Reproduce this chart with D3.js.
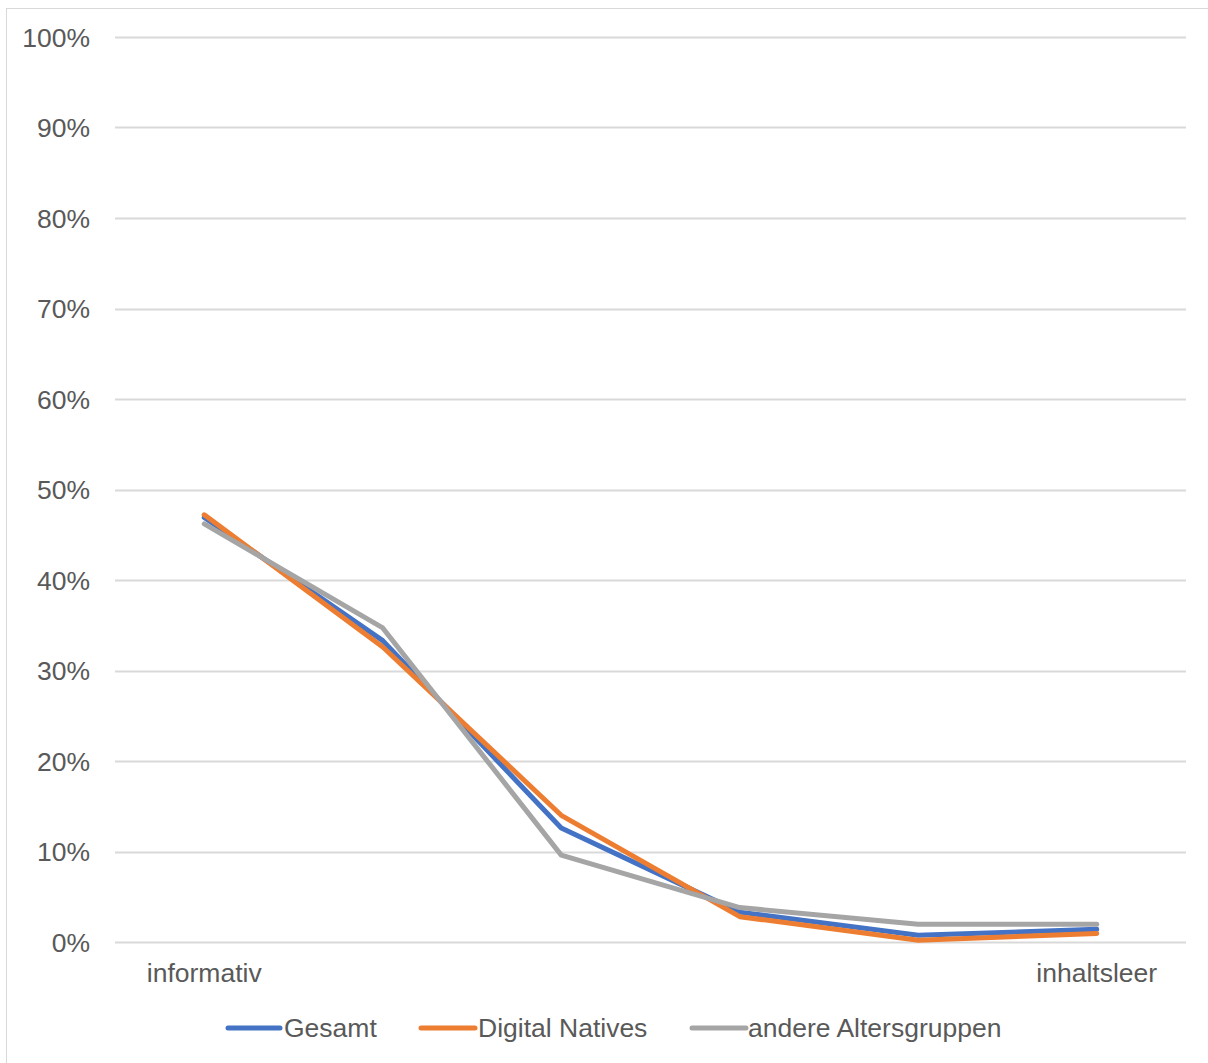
<!DOCTYPE html>
<html>
<head>
<meta charset="utf-8">
<script src="https://cdn.jsdelivr.net/npm/d3@7"></script>
<style>
  html, body { margin: 0; padding: 0; background: #fff; }
  svg { display: block; }
</style>
</head>
<body>
<svg id="chart" width="1208" height="1063"></svg>
<script>
const categories = ["1", "2", "3", "4", "5", "6"];
const xTickLabels = ["informativ", "", "", "", "", "inhaltsleer"];
const gesamt = [46.9, 33.3, 12.6, 3.3, 0.75, 1.4];
const digitalNatives = [47.2, 32.6, 14.0, 2.8, 0.2, 0.95];
const andere = [46.2, 34.7, 9.6, 3.8, 1.95, 1.95];
const seriesNames = ["Gesamt", "Digital Natives", "andere Altersgruppen"];
const seriesColors = ["#4472C4", "#ED7D31", "#A5A5A5"];
const yTicks = [0, 10, 20, 30, 40, 50, 60, 70, 80, 90, 100];

(function () {
const series = [gesamt, digitalNatives, andere];
const svg = d3.select("#chart");
const font = "'Liberation Sans', Arial, sans-serif";
const textColor = "#595959";
const fs = 26.5;

// border
svg.append("rect").attr("x", 6.5).attr("y", 8.5).attr("width", 1220).attr("height", 1080)
  .attr("fill", "#fff").attr("stroke", "#D9D9D9").attr("stroke-width", 1);

const mLeft = 115, mRight = 1186, mTop = 37, mBottom = 942;
const x = d3.scaleBand().domain(categories).range([mLeft, mRight]).paddingInner(0).paddingOuter(0);
const y = d3.scaleLinear().domain([0, 100]).range([mBottom, mTop]);

// grid
const grid = svg.append("g");
grid.selectAll("line").data(yTicks).join("line")
  .attr("x1", mLeft).attr("x2", mRight)
  .attr("y1", d => Math.round(y(d)) + 0.5).attr("y2", d => Math.round(y(d)) + 0.5)
  .attr("stroke", "#D9D9D9").attr("stroke-width", 2);

// y axis labels
const yAxis = d3.axisLeft(y).tickValues(yTicks).tickFormat(d => d + "%").tickSize(0).tickPadding(0);
const gy = svg.append("g").attr("transform", `translate(90,0)`).call(yAxis);
gy.select(".domain").remove();
gy.selectAll("text").attr("font-family", font).attr("font-size", fs).attr("fill", textColor).attr("dy", "0.35em");

// x axis labels
const xAxis = d3.axisBottom(x).tickFormat((d, i) => xTickLabels[i]).tickSize(0).tickPadding(0);
const gx = svg.append("g").attr("transform", `translate(0,${mBottom + 21})`).call(xAxis);
gx.select(".domain").remove();
gx.selectAll("text").attr("font-family", font).attr("font-size", fs).attr("fill", textColor).attr("dy", "0.71em");

// lines
const line = d3.line().x((d, i) => x(categories[i]) + x.bandwidth() / 2).y(d => y(d));
series.forEach((s, k) => {
  svg.append("path").datum(s).attr("d", line)
    .attr("fill", "none").attr("stroke", seriesColors[k]).attr("stroke-width", 5)
    .attr("stroke-linejoin", "round").attr("stroke-linecap", "round");
});

// legend
const legendItems = [
  { x1: 228, x2: 280, tx: 284 },
  { x1: 421, x2: 475, tx: 478 },
  { x1: 692, x2: 746, tx: 748 }
];
const ly = 1028;
const lg = svg.append("g");
seriesNames.forEach((name, k) => {
  const it = legendItems[k];
  lg.append("line").attr("x1", it.x1).attr("x2", it.x2).attr("y1", ly).attr("y2", ly)
    .attr("stroke", seriesColors[k]).attr("stroke-width", 5).attr("stroke-linecap", "round");
  lg.append("text").attr("x", it.tx).attr("y", ly).attr("dy", "0.35em")
    .attr("font-family", font).attr("font-size", fs).attr("fill", textColor).text(name);
});
})();
</script>
</body>
</html>
